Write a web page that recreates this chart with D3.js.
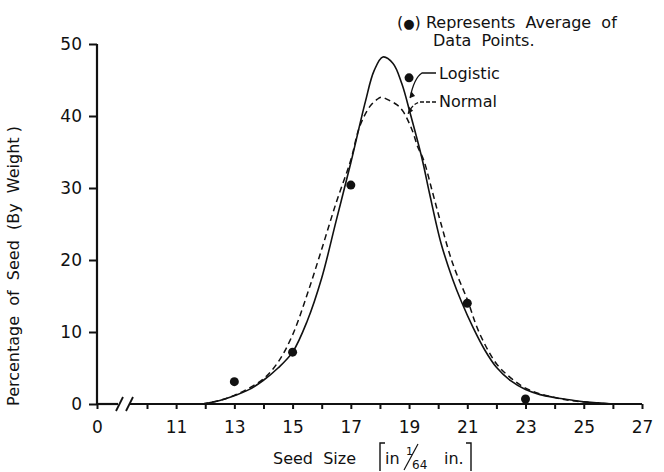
<!DOCTYPE html>
<html>
<head>
<meta charset="utf-8">
<script src="https://cdnjs.cloudflare.com/ajax/libs/d3/7.8.5/d3.min.js"></script>
<style>
  body { margin: 0; background: #fff; }
  svg { display: block; }
  text { font-family: "DejaVu Sans", sans-serif; fill: #111; }
</style>
</head>
<body>
<svg id="chart" width="664" height="472"></svg>
<script>
// averaged data points (seed size in 1/64 in., percent by weight)
var pointSizes = [13, 15, 17, 19, 21, 23];
var pointValues = [3.1, 7.2, 30.4, 45.3, 14.0, 0.7];

// logistic fit
var logisticX = [11.9, 12.5, 12.9, 13.5, 14.0, 14.5, 15.0, 15.5, 16.0, 16.5, 17.0, 17.5, 17.8, 18.1, 18.45, 18.75, 19.05, 19.45, 19.7, 20.1, 20.5, 20.8, 21.2, 21.6, 22.0, 22.5, 23.0, 23.5, 24.0, 24.5, 25.0, 25.5, 26.0];
var logisticY = [0, 0.5, 1.0, 2.0, 3.3, 5.0, 7.2, 11.5, 17.5, 25.5, 33.5, 42.0, 46.3, 48.2, 47.3, 44.5, 40.2, 34.0, 29.3, 22.3, 17.3, 14.2, 10.6, 7.5, 5.1, 3.2, 2.0, 1.3, 0.9, 0.6, 0.3, 0.15, 0];

// normal fit
var normalX = [11.9, 12.5, 13.0, 13.5, 14.0, 14.5, 15.0, 15.5, 16.0, 16.5, 17.0, 17.3, 17.65, 17.9, 18.05, 18.35, 18.6, 18.8, 19.1, 19.3, 19.5, 19.8, 20.1, 20.5, 21.0, 21.4, 22.0, 22.5, 23.0, 23.5, 24.0, 24.5, 25.0, 25.5, 26.0];
var normalY = [0, 0.5, 1.2, 2.2, 3.5, 5.8, 9.6, 15.2, 21.5, 28.0, 33.9, 38.5, 41.3, 42.3, 42.6, 42.1, 41.5, 40.6, 38.1, 35.7, 33.9, 29.5, 25.0, 19.5, 14.5, 10.0, 5.6, 3.6, 2.2, 1.4, 0.9, 0.5, 0.3, 0.12, 0];

var xMinorTicks = [0, 10, 11, 12, 13, 14, 15, 16, 17, 18, 19, 20, 21, 22, 23, 24, 25, 26, 27];
var xLabelTicks = [0, 11, 13, 15, 17, 19, 21, 23, 25, 27];
var yTicks = [0, 10, 20, 30, 40, 50];
var breakAt = 4.6;

var svg = d3.select("#chart");

// broken axis: 0 sits at the y axis, the scale restarts at 10
var x = d3.scaleLinear().domain([0, 10, 27]).range([97, 147, 642]);
var y = d3.scaleLinear().domain([0, 50]).range([404, 44]);

// y axis
var yAxis = svg.append("g")
    .attr("transform", "translate(" + x(0) + ",0)")
    .call(d3.axisLeft(y).tickValues(yTicks).tickSize(8).tickPadding(7));
yAxis.select(".domain").remove();
yAxis.selectAll("line").attr("stroke", "#111").attr("stroke-width", 2);
yAxis.selectAll("text").style("font-size", "17px").attr("fill", "#111");
svg.append("line")
    .attr("x1", x(0)).attr("x2", x(0))
    .attr("y1", y(50)).attr("y2", y(0))
    .attr("stroke", "#111").attr("stroke-width", 2.2);

// x axis ticks
var xTickG = svg.append("g")
    .attr("transform", "translate(0," + y(0) + ")")
    .call(d3.axisBottom(x).tickValues(xMinorTicks).tickSize(5).tickFormat(""));
xTickG.select(".domain").remove();
xTickG.selectAll("line").attr("stroke", "#111").attr("stroke-width", 2);

var xLabG = svg.append("g")
    .attr("transform", "translate(0," + y(0) + ")")
    .call(d3.axisBottom(x).tickValues(xLabelTicks).tickSize(0).tickPadding(17));
xLabG.select(".domain").remove();
xLabG.selectAll("text").style("font-size", "17px").attr("fill", "#111");

// x axis line with the break
var bx = x(breakAt);
svg.append("line")
    .attr("x1", x(0)).attr("x2", bx - 2)
    .attr("y1", y(0)).attr("y2", y(0))
    .attr("stroke", "#111").attr("stroke-width", 2.2);
svg.append("line")
    .attr("x1", bx + 10).attr("x2", x(27))
    .attr("y1", y(0)).attr("y2", y(0))
    .attr("stroke", "#111").attr("stroke-width", 2.2);
[0, 10].forEach(function (off) {
    svg.append("line")
        .attr("x1", bx - 4 + off).attr("y1", y(0) + 7)
        .attr("x2", bx + 3 + off).attr("y2", y(0) - 7)
        .attr("stroke", "#111").attr("stroke-width", 1.8);
});

// curves
var line = d3.line()
    .x(function (d) { return x(d[0]); })
    .y(function (d) { return y(d[1]); })
    .curve(d3.curveCatmullRom.alpha(0.5));

svg.append("path")
    .datum(normalX.map(function (v, i) { return [v, normalY[i]]; }))
    .attr("d", line)
    .attr("fill", "none")
    .attr("stroke", "#111")
    .attr("stroke-width", 1.5)
    .attr("stroke-dasharray", "6,4");

svg.append("path")
    .datum(logisticX.map(function (v, i) { return [v, logisticY[i]]; }))
    .attr("d", line)
    .attr("fill", "none")
    .attr("stroke", "#111")
    .attr("stroke-width", 1.6);

// data points
svg.append("g").selectAll("circle")
    .data(pointSizes)
    .enter().append("circle")
    .attr("cx", function (d) { return x(d); })
    .attr("cy", function (d, i) { return y(pointValues[i]); })
    .attr("r", 4.5)
    .attr("fill", "#111");

// curve labels with leaders
var lx = x(19.0);
svg.append("path")
    .attr("d", "M436,73 L422,73 Q414,78 " + (lx + 1) + "," + (y(42.5)))
    .attr("fill", "none").attr("stroke", "#111").attr("stroke-width", 1.3);
svg.append("path")
    .attr("d", "M" + (lx + 1) + "," + y(42.5) + " l1,-7 l4,5 z")
    .attr("fill", "#111");
svg.append("path")
    .attr("d", "M436,102 L420,102 Q412,104 " + (lx - 1) + "," + y(40.3))
    .attr("fill", "none").attr("stroke", "#111").attr("stroke-width", 1.3)
    .attr("stroke-dasharray", "4,2");
svg.append("path")
    .attr("d", "M" + (lx - 1) + "," + y(40.3) + " l1,-7 l4,4 z")
    .attr("fill", "#111");

svg.append("text").attr("x", 439).attr("y", 79).style("font-size", "16px").text("Logistic");
svg.append("text").attr("x", 439).attr("y", 107).style("font-size", "16px").text("Normal");

var legend = svg.append("text").attr("x", 397).attr("y", 28).style("font-size", "16px")
    .style("white-space", "pre");
legend.append("tspan").text("(");
legend.append("tspan").style("font-size", "13px").text("\u25CF");
legend.append("tspan").text(") Represents  Average  of");
svg.append("text").attr("x", 433).attr("y", 46).style("font-size", "16px")
    .style("white-space", "pre").text("Data  Points.");

// axis titles
svg.append("text")
    .attr("transform", "translate(19,266) rotate(-90)")
    .attr("text-anchor", "middle")
    .style("font-size", "16px")
    .style("white-space", "pre")
    .text("Percentage  of  Seed  (By  Weight )");

var tg = svg.append("g");
tg.append("text").attr("x", 273).attr("y", 464).style("font-size", "16px")
    .style("white-space", "pre").text("Seed  Size");
tg.append("path").attr("d", "M385,443 L380,443 L380,471").attr("fill", "none")
    .attr("stroke", "#111").attr("stroke-width", 1.4);
tg.append("text").attr("x", 385).attr("y", 464).style("font-size", "16px").text("in");
tg.append("text").attr("x", 406).attr("y", 455).style("font-size", "11px").text("1");
tg.append("line").attr("x1", 404).attr("y1", 470).attr("x2", 418).attr("y2", 444)
    .attr("stroke", "#111").attr("stroke-width", 1.2);
tg.append("text").attr("x", 412).attr("y", 469).style("font-size", "12px").text("64");
tg.append("text").attr("x", 444).attr("y", 464).style("font-size", "16px").text("in.");
tg.append("path").attr("d", "M466,443 L471,443 L471,471").attr("fill", "none")
    .attr("stroke", "#111").attr("stroke-width", 1.4);
</script>
</body>
</html>
